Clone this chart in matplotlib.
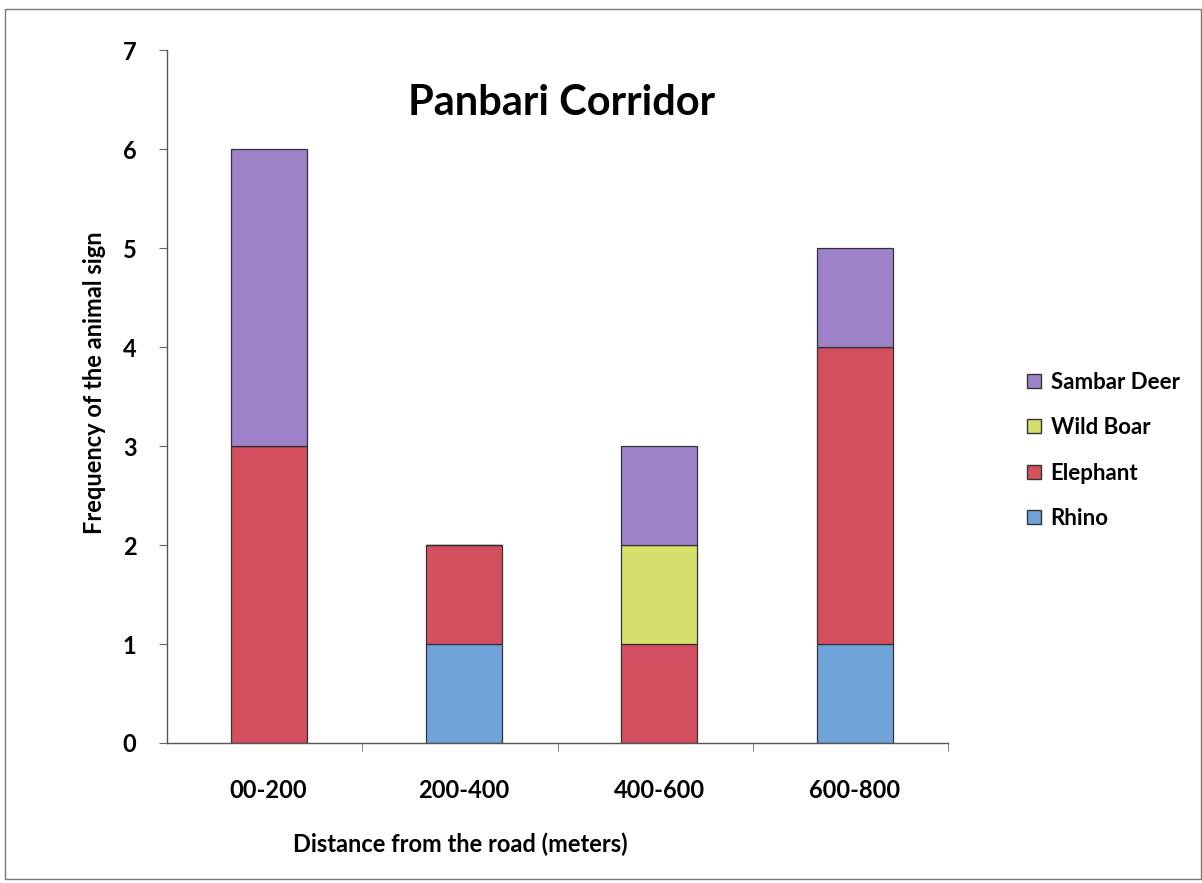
import numpy as np
import matplotlib
matplotlib.use("Agg")
import matplotlib.pyplot as plt
from matplotlib.patches import Patch

plt.rcParams['font.family'] = ['Lato', 'DejaVu Sans']

categories = ["00-200", "200-400", "400-600", "600-800"]
rhino = [0, 1, 0, 1]
elephant = [3, 1, 1, 3]
wild_boar = [0, 0, 1, 0]
sambar_deer = [3, 0, 1, 1]

colors = {"Rhino": "#6fa3da", "Elephant": "#d44f60",
          "Wild Boar": "#d5e06c", "Sambar Deer": "#9d82c9"}

fig = plt.figure(figsize=(12.02, 8.83), dpi=100)
ax = fig.add_axes([0.139, 0.1586, 0.65, 0.7844])

x = np.arange(len(categories))
w = 0.39
bottom = np.zeros(len(categories))
for name, vals in [("Rhino", rhino), ("Elephant", elephant),
                   ("Wild Boar", wild_boar), ("Sambar Deer", sambar_deer)]:
    vals = np.array(vals, dtype=float)
    ax.bar(x + 0.02, vals, w, bottom=bottom, color=colors[name],
           edgecolor="#333333", linewidth=0.9)
    bottom += vals

ax.set_xlim(-0.5, 3.5)
ax.set_ylim(0, 7)
ax.set_yticks(range(8))
ax.set_xticks(x + 0.02)
ax.set_xticklabels(categories)
# category separators on the x axis
ax.set_xticks([0.5, 1.5, 2.5, 3.5], minor=True)
ax.tick_params(axis='x', which='major', length=0, pad=26)
ax.tick_params(axis='x', which='minor', length=6, color="#666666")
ax.tick_params(axis='y', length=6, color="#666666", pad=16)
for lab in ax.get_xticklabels() + ax.get_yticklabels():
    lab.set_fontsize(17)
    lab.set_fontweight('bold')

for s in ["top", "right"]:
    ax.spines[s].set_visible(False)
for s in ["left", "bottom"]:
    ax.spines[s].set_color("#555555")
    ax.spines[s].set_linewidth(1.0)

ax.set_ylabel("Frequency of the animal sign", fontsize=17, fontweight='bold')
ax.yaxis.set_label_coords(-0.078, 0.52)
ax.set_xlabel("Distance from the road (meters)", fontsize=17, fontweight='bold')
ax.xaxis.set_label_coords(0.375, -0.13)

fig.text(0.4675, 0.883, "Panbari Corridor", fontsize=30, fontweight='bold',
         ha='center', va='center')

handles = [Patch(facecolor=colors[n], edgecolor="#333333", label=n)
           for n in ["Sambar Deer", "Wild Boar", "Elephant", "Rhino"]]
fig.legend(handles=handles, loc='center left', bbox_to_anchor=(0.838, 0.49),
           frameon=False, prop={'size': 16, 'weight': 'bold'},
           handlelength=0.6, handleheight=0.6, handletextpad=0.45,
           labelspacing=1.1)

# thin frame around the whole chart
fig.add_artist(plt.Rectangle((0.004, 0.005), 0.995, 0.985, transform=fig.transFigure,
                             fill=False, edgecolor="#777777", linewidth=1.0))

fig.savefig("out.png", dpi=100)
